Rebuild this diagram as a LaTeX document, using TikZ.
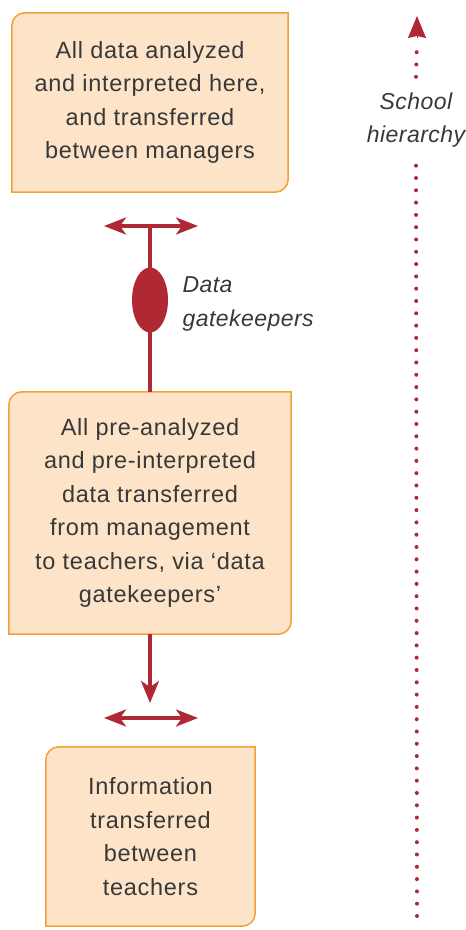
\documentclass[tikz,border=0pt]{standalone}
\usepackage{fontspec}
\setmainfont{Liberation Sans}
\usepackage{tikz}
\usetikzlibrary{arrows.meta, shapes.geometric, backgrounds}
\definecolor{boxfill}{HTML}{FDE4C8}
\definecolor{boxline}{HTML}{F4A03A}
\definecolor{gatered}{HTML}{B02833}
\definecolor{txtgray}{HTML}{383838}
\tikzstyle{levelbox} = [rectangle, inner sep=0pt, align=center, text=txtgray, font=\fontsize{23.5}{33.5}\selectfont\addfontfeature{LetterSpace=3}]
\tikzstyle{cutline} = [draw=boxline, fill=boxfill, line width=1.5pt]
\tikzstyle{redline} = [draw=gatered, line width=3.5pt]
\tikzstyle{spread} = [redline, {Stealth[length=22pt,width=17pt,inset=6pt]}-{Stealth[length=22pt,width=17pt,inset=6pt]}]
\tikzstyle{pushdown} = [redline, -{Stealth[length=22pt,width=18pt,inset=6pt]}]
\tikzstyle{hierdots} = [draw=gatered, line width=4pt, line cap=round, dash pattern=on 0pt off 12.3pt]
\tikzstyle{sidelabel} = [font=\fontsize{23}{33.5}\selectfont\itshape\addfontfeature{LetterSpace=2}, text=txtgray]
% box with two round corners (top left, bottom right)
\newcommand{\cutbox}[1]{\path[cutline] ([yshift=-13pt]#1.north west) arc[start angle=180, end angle=90, radius=13pt] -- (#1.north east) -- ([yshift=13pt]#1.south east) arc[start angle=0, end angle=-90, radius=13pt] -- (#1.south west) -- cycle;}

\begin{document}
\begin{tikzpicture}[x=1pt, y=1pt]
	\useasboundingbox (0,0) rectangle (466,930);
	
	\node[levelbox, minimum width=276pt, minimum height=179pt] (managers) at (150,827.5) {All data analyzed\\and interpreted here,\\and transferred\\between managers};
	\node[levelbox, minimum width=282pt, minimum height=242pt] (pretransfer) at (150,417) {All pre-analyzed\\and pre-interpreted\\data transferred\\from management\\to teachers, via `data\\gatekeepers'};
	\node[levelbox, minimum width=209pt, minimum height=179pt] (teachers) at (150.5,93.5) {Information\\transferred\\between\\teachers};
	\begin{scope}[on background layer]
		\cutbox{managers}
		\cutbox{pretransfer}
		\cutbox{teachers}
	\end{scope}
	
	%managers <-> gatekeepers
	\coordinate (mleft) at (104,704);
	\coordinate (mright) at (198,704);
	\coordinate (mjoin) at (150,704);
	\draw[spread] (mleft) -- (mright);
	\draw[redline] (mjoin) -- (pretransfer.north);
	\node[ellipse, fill=gatered, minimum width=36pt, minimum height=65pt, inner sep=0pt] (keeper) at (150,630) {};
	\node[sidelabel, align=left, anchor=west] (keeperlabel) at (179,626) {Data\\gatekeepers};
	
	%down to teachers
	\coordinate (ttip) at (150,227);
	\coordinate (tleft) at (104,212);
	\coordinate (tright) at (198,212);
	\draw[pushdown] (pretransfer.south) -- (ttip);
	\draw[spread] (tleft) -- (tright);
	
	%hierarchy axis
	\coordinate (hbase) at (417,14);
	\coordinate (htop) at (417,914);
	\node[sidelabel, align=center, minimum height=86pt, inner sep=0pt] (hierlabel) at (416,810) {School\\hierarchy};
	\draw[hierdots] (hbase) -- (hierlabel.south);
	\draw[hierdots] (hierlabel.north) -- ([yshift=-24pt]htop);
	\draw[gatered, -{Stealth[length=22pt,width=18pt,inset=2pt]}, line width=1pt] ([yshift=-22pt]htop) -- (htop);
	
\end{tikzpicture}
\end{document}
